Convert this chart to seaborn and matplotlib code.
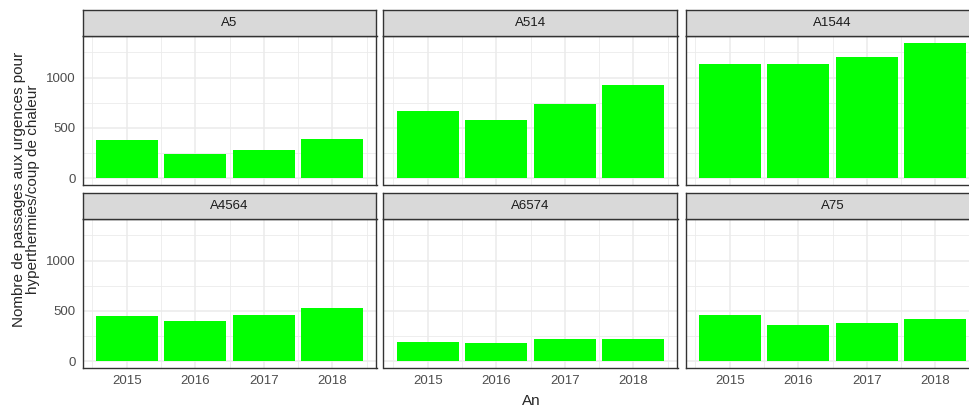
import pandas as pd
import matplotlib.pyplot as plt
from matplotlib.ticker import MultipleLocator, FixedLocator
import seaborn as sns

# Data
regions = ['A5', 'A514', 'A1544', 'A4564', 'A6574', 'A75']
years = [2015, 2016, 2017, 2018]
passages_a5 = [375, 239, 279, 385]
passages_a514 = [664, 581, 737, 930]
passages_a1544 = [1136, 1136, 1205, 1345]
passages_a4564 = [447, 395, 457, 533]
passages_a6574 = [194, 184, 224, 224]
passages_a75 = [457, 362, 375, 418]

values = [passages_a5, passages_a514, passages_a1544,
          passages_a4564, passages_a6574, passages_a75]
df = pd.DataFrame({
    'region': [r for r in regions for _ in years],
    'An': years * len(regions),
    'n': [v for vals in values for v in vals],
})

sns.set_style('white')
plt.rcParams['font.family'] = ['Liberation Sans', 'DejaVu Sans']

W, H = 970, 408
fig = plt.figure(figsize=(W / 100, H / 100), dpi=100)

# panel geometry in pixels (left, width) per column, (strip top, panel top, panel bottom) per row
cols = [(82.5, 294), (383.5, 294), (685.5, 294)]
rows = [(10, 36, 185), (193, 219, 368)]

ymax = df['n'].max()
ylim = (-0.05 * ymax, 1.05 * ymax)
xlim = (2014.55 - 0.195, 2018.45 + 0.195)
dark = '#333333'

for i, region in enumerate(regions):
    r, c = divmod(i, 3)
    left, width = cols[c]
    strip_top, top, bottom = rows[r]
    ax = fig.add_axes([left / W, 1 - bottom / H, width / W, (bottom - top) / H])
    sub = df[df['region'] == region]
    sns.barplot(data=sub, x='An', y='n', native_scale=True, width=0.9,
                color='#00FF00', saturation=1, edgecolor='none', ax=ax)
    ax.set_xlim(xlim)
    ax.set_ylim(ylim)
    ax.xaxis.set_major_locator(FixedLocator(years))
    ax.xaxis.set_minor_locator(FixedLocator([y + 0.5 for y in [2014] + years]))
    ax.yaxis.set_major_locator(MultipleLocator(500))
    ax.yaxis.set_minor_locator(MultipleLocator(250))
    ax.grid(which='major', color='#EBEBEB', linewidth=1.1)
    ax.grid(which='minor', color='#EBEBEB', linewidth=0.6)
    ax.set_axisbelow(True)
    for sp in ax.spines.values():
        sp.set_color(dark)
        sp.set_linewidth(1.0)
    ax.set_xlabel('')
    ax.set_ylabel('')
    ax.tick_params(which='minor', length=0)
    ax.tick_params(which='major', length=3, width=0.8, color=dark,
                   labelsize=9.5, labelcolor='#4D4D4D', pad=2)
    if c != 0:
        ax.tick_params(axis='y', length=0, labelleft=False)
    else:
        ax.set_yticks([0, 500, 1000])
        ax.set_yticklabels(['0', '500', '1000'])
    if r != 1:
        ax.tick_params(axis='x', length=0, labelbottom=False)
    else:
        ax.set_xticklabels([str(y) for y in years])

    # strip
    sax = fig.add_axes([left / W, 1 - top / H, width / W, (top - strip_top) / H])
    sax.set_facecolor('#D9D9D9')
    sax.set_xticks([])
    sax.set_yticks([])
    for sp in sax.spines.values():
        sp.set_color(dark)
        sp.set_linewidth(1.0)
    sax.text(0.5, 0.5, region, ha='center', va='center', fontsize=9.5,
             color='#1A1A1A', transform=sax.transAxes)

fig.text(531 / W, 1 - 401 / H, 'An', ha='center', va='center', fontsize=11)
fig.text(26 / W, 1 - 189 / H,
         'Nombre de passages aux urgences pour\nhyperthermies/coup de chaleur',
         ha='center', va='center', rotation=90, fontsize=11, linespacing=1.05)

fig.savefig('out.png', dpi=100)
